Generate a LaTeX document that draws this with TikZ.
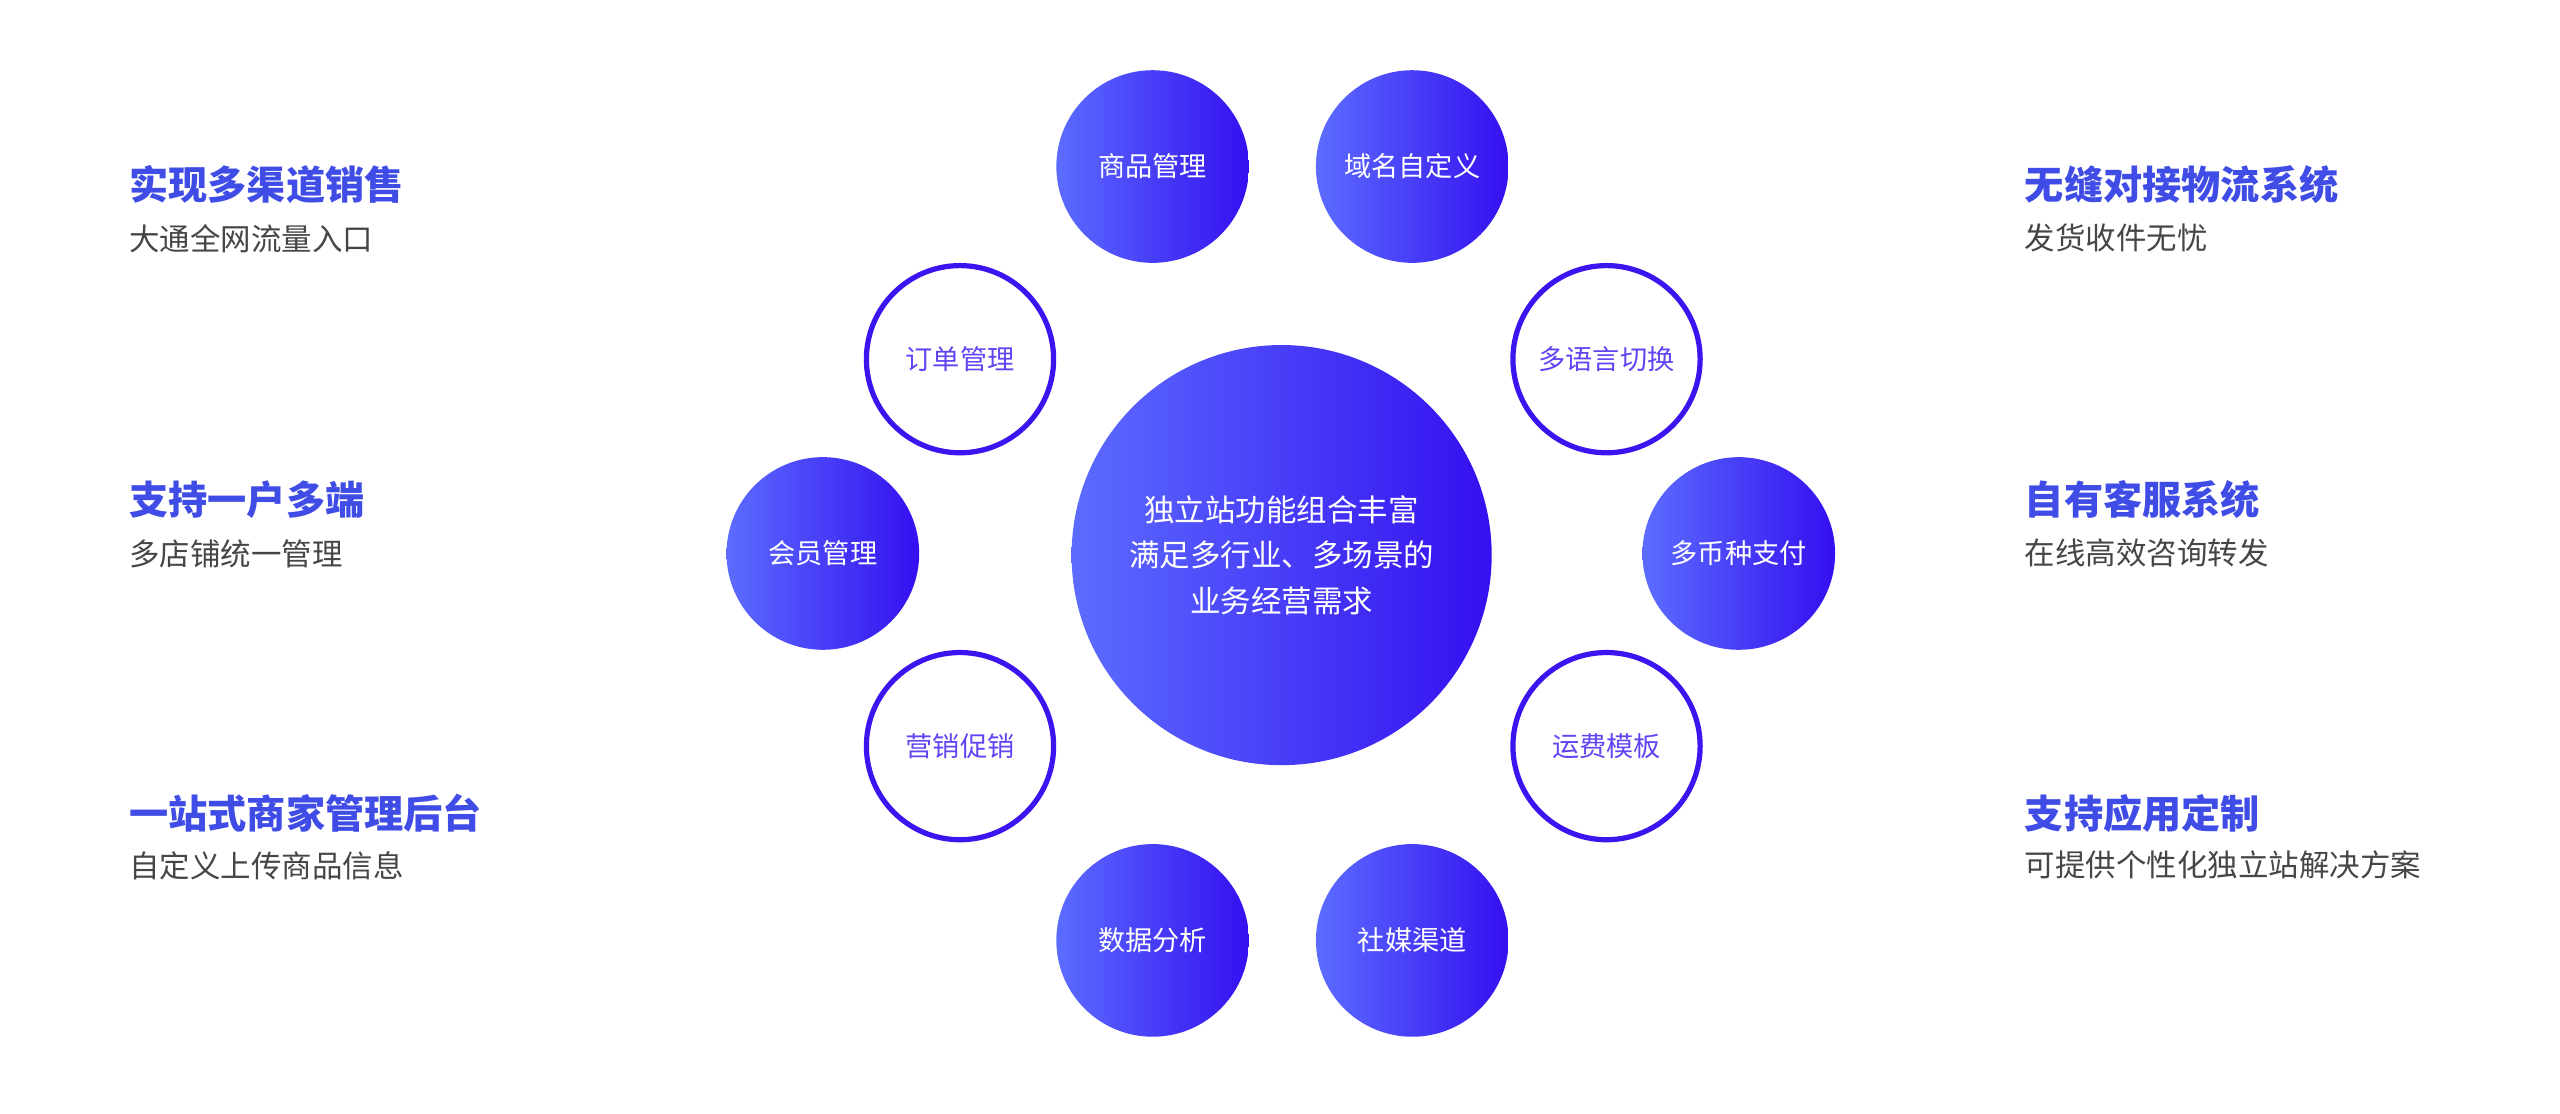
\documentclass[tikz,border=0pt]{standalone}
\usepackage{fontspec}
\setmainfont{Noto Sans CJK SC}
\usetikzlibrary{positioning}
\definecolor{gradL}{RGB}{92,108,255}
\definecolor{gradR}{RGB}{52,16,240}
\definecolor{ringC}{RGB}{60,20,240}
\definecolor{titleC}{RGB}{64,76,230}
\definecolor{subC}{RGB}{70,70,70}
\tikzset{
  full/.style={circle,minimum size=88.5pt,inner sep=0pt,left color=gradL,right color=gradR,text=white,font=\fontsize{12.5}{14}\selectfont},
  ring/.style={circle,minimum size=86pt,inner sep=0pt,draw=ringC,line width=2.4pt,fill=white,text=ringC!80!white,font=\fontsize{12.5}{14}\selectfont},
  head/.style={anchor=west,inner sep=0pt,text=titleC,font=\fontsize{18}{20}\selectfont\bfseries},
  sub/.style={anchor=west,inner sep=0pt,text=subC,font=\fontsize{14}{16}\selectfont}
}
\begin{document}
\begin{tikzpicture}[x=0.75pt,y=0.75pt,yscale=-1]
\useasboundingbox[fill=white] (0,0) rectangle (1568,682);

% centre
\node[circle,minimum size=193pt,inner sep=0pt,left color=gradL,right color=gradR,text=white,align=center,font=\fontsize{14}{21}\selectfont] (hub) at (785,340) {独立站功能组合丰富\\满足多行业、多场景的\\业务经营需求};

% ring of features
\node[full] (goods) at (706,102) {商品管理};
\node[full] (domain) at (865,102) {域名自定义};
\node[ring] (order) at (588,220) {订单管理};
\node[ring] (lang) at (984,220) {多语言切换};
\node[full] (member) at (504,339) {会员管理};
\node[full] (pay) at (1065,339) {多币种支付};
\node[ring] (promo) at (588,457) {营销促销};
\node[ring] (freight) at (984,457) {运费模板};
\node[full] (data) at (706,576) {数据分析};
\node[full] (social) at (865,576) {社媒渠道};

% left column
\node[head] (h1) at (79,113) {实现多渠道销售};
\node[sub] (s1) at (79,146) {大通全网流量入口};
\node[head] (h2) at (79,306) {支持一户多端};
\node[sub] (s2) at (79,339) {多店铺统一管理};
\node[head] (h3) at (79,498) {一站式商家管理后台};
\node[sub] (s3) at (79,530) {自定义上传商品信息};

% right column
\node[head] (h4) at (1240,113) {无缝对接物流系统};
\node[sub] (s4) at (1240,146) {发货收件无忧};
\node[head] (h5) at (1240,306) {自有客服系统};
\node[sub] (s5) at (1240,339) {在线高效咨询转发};
\node[head] (h6) at (1240,498) {支持应用定制};
\node[sub] (s6) at (1240,530) {可提供个性化独立站解决方案};
\end{tikzpicture}
\end{document}
